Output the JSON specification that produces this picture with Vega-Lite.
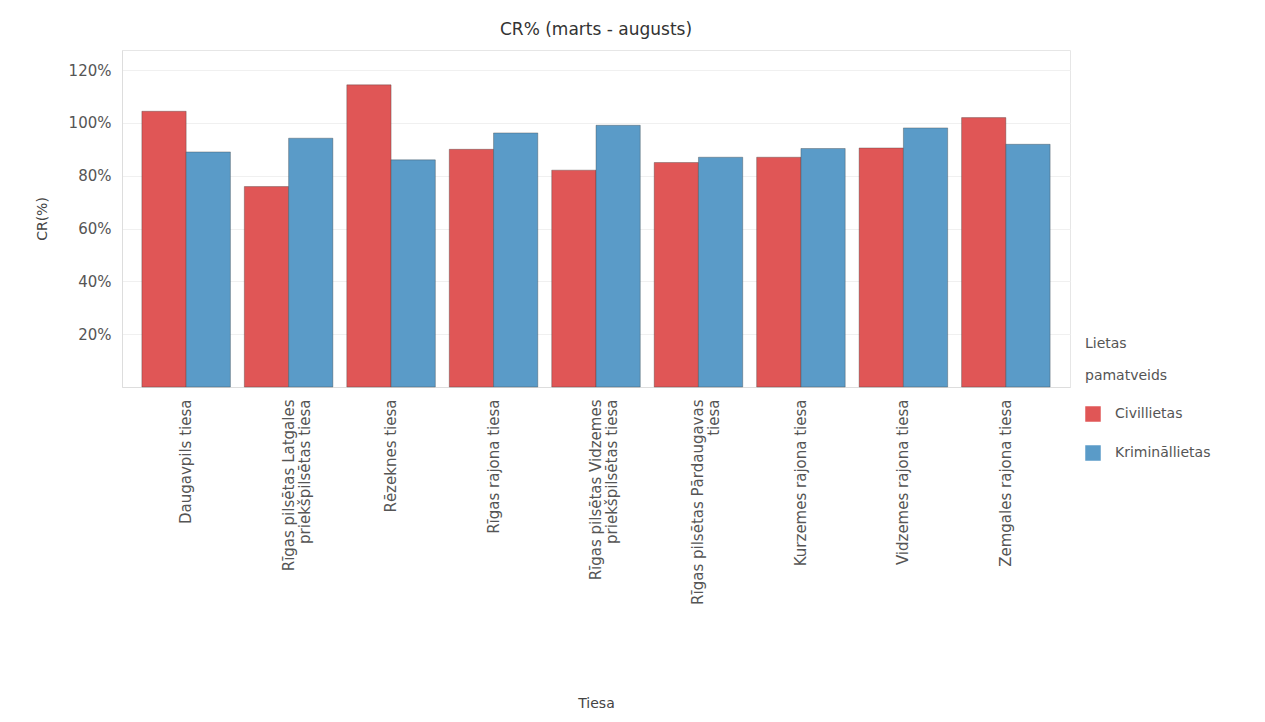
{
  "$schema": "https://vega.github.io/schema/vega-lite/v6.json",
  "width": 948,
  "height": 337,
  "autosize": {"type": "none"},
  "padding": {"left": 122, "top": 50, "right": 195, "bottom": 335},
  "background": "white",
  "title": {"text": "CR% (marts - augusts)", "anchor": "middle", "frame": "group", "font": "DejaVu Sans", "fontSize": 17, "fontWeight": "normal", "color": "#333333", "offset": 11},
  "data": {
    "values": [
      {"Tiesa": "Daugavpils tiesa", "Lietas pamatveids": "Civillietas", "CR": 1.044},
      {"Tiesa": "Daugavpils tiesa", "Lietas pamatveids": "Krimināllietas", "CR": 0.89},
      {"Tiesa": "Rīgas pilsētas Latgales priekšpilsētas tiesa", "Lietas pamatveids": "Civillietas", "CR": 0.759},
      {"Tiesa": "Rīgas pilsētas Latgales priekšpilsētas tiesa", "Lietas pamatveids": "Krimināllietas", "CR": 0.942},
      {"Tiesa": "Rēzeknes tiesa", "Lietas pamatveids": "Civillietas", "CR": 1.144},
      {"Tiesa": "Rēzeknes tiesa", "Lietas pamatveids": "Krimināllietas", "CR": 0.86},
      {"Tiesa": "Rīgas rajona tiesa", "Lietas pamatveids": "Civillietas", "CR": 0.90},
      {"Tiesa": "Rīgas rajona tiesa", "Lietas pamatveids": "Krimināllietas", "CR": 0.962},
      {"Tiesa": "Rīgas pilsētas Vidzemes priekšpilsētas tiesa", "Lietas pamatveids": "Civillietas", "CR": 0.821},
      {"Tiesa": "Rīgas pilsētas Vidzemes priekšpilsētas tiesa", "Lietas pamatveids": "Krimināllietas", "CR": 0.991},
      {"Tiesa": "Rīgas pilsētas Pārdaugavas tiesa", "Lietas pamatveids": "Civillietas", "CR": 0.85},
      {"Tiesa": "Rīgas pilsētas Pārdaugavas tiesa", "Lietas pamatveids": "Krimināllietas", "CR": 0.87},
      {"Tiesa": "Kurzemes rajona tiesa", "Lietas pamatveids": "Civillietas", "CR": 0.87},
      {"Tiesa": "Kurzemes rajona tiesa", "Lietas pamatveids": "Krimināllietas", "CR": 0.903},
      {"Tiesa": "Vidzemes rajona tiesa", "Lietas pamatveids": "Civillietas", "CR": 0.905},
      {"Tiesa": "Vidzemes rajona tiesa", "Lietas pamatveids": "Krimināllietas", "CR": 0.981},
      {"Tiesa": "Zemgales rajona tiesa", "Lietas pamatveids": "Civillietas", "CR": 1.02},
      {"Tiesa": "Zemgales rajona tiesa", "Lietas pamatveids": "Krimināllietas", "CR": 0.919}
    ]
  },
  "mark": {"type": "bar", "stroke": "#3a3a3a", "strokeWidth": 0.7, "strokeOpacity": 0.5},
  "encoding": {
    "x": {
      "field": "Tiesa",
      "type": "nominal",
      "sort": null,
      "scale": {"paddingInner": 0.136, "paddingOuter": 0.194},
      "axis": {
        "title": "Tiesa",
        "labelAngle": -90,
        "labelPadding": 12,
        "labelLimit": 400,
        "labelLineHeight": 16,
        "labelFontSize": 15,
        "titlePadding": 109,
        "labelExpr": "datum.value == 'Rīgas pilsētas Latgales priekšpilsētas tiesa' ? ['Rīgas pilsētas Latgales', 'priekšpilsētas tiesa'] : datum.value == 'Rīgas pilsētas Vidzemes priekšpilsētas tiesa' ? ['Rīgas pilsētas Vidzemes', 'priekšpilsētas tiesa'] : datum.value == 'Rīgas pilsētas Pārdaugavas tiesa' ? ['Rīgas pilsētas Pārdaugavas', 'tiesa'] : datum.value"
      }
    },
    "xOffset": {"field": "Lietas pamatveids", "type": "nominal", "sort": ["Civillietas", "Krimināllietas"], "scale": {"paddingInner": 0, "paddingOuter": 0}},
    "y": {
      "field": "CR",
      "type": "quantitative",
      "scale": {"domain": [0, 1.276], "nice": false},
      "axis": {"title": "CR(%)", "format": ".0%", "values": [0.2, 0.4, 0.6, 0.8, 1.0, 1.2], "labelPadding": 11, "labelFontSize": 15, "titlePadding": 19, "titleFontSize": 14}
    },
    "color": {
      "field": "Lietas pamatveids",
      "type": "nominal",
      "scale": {"domain": ["Civillietas", "Krimināllietas"], "range": ["#e05656", "#5a9bc8"]},
      "legend": {
        "title": ["Lietas", "pamatveids"],
        "orient": "none",
        "legendX": 963,
        "legendY": 287,
        "titleLineHeight": 32,
        "titleFont": "DejaVu Sans",
        "titleFontSize": 14,
        "titleFontWeight": "normal",
        "titleColor": "#555555",
        "titlePadding": 23,
        "labelFont": "DejaVu Sans",
        "labelFontSize": 14,
        "labelColor": "#555555",
        "labelOffset": 14,
        "symbolType": "square",
        "symbolSize": 240,
        "symbolStrokeWidth": 0,
        "rowPadding": 23
      }
    }
  },
  "config": {
    "view": {"stroke": "#e6e6e6"},
    "axis": {
      "labelFont": "DejaVu Sans",
      "labelFontSize": 13,
      "labelColor": "#555555",
      "titleFont": "DejaVu Sans",
      "titleFontSize": 14,
      "titleFontWeight": "normal",
      "titleColor": "#444444",
      "ticks": false,
      "domainColor": "#dddddd",
      "gridColor": "#f0f0f0"
    },
    "axisX": {"grid": false}
  }
}
